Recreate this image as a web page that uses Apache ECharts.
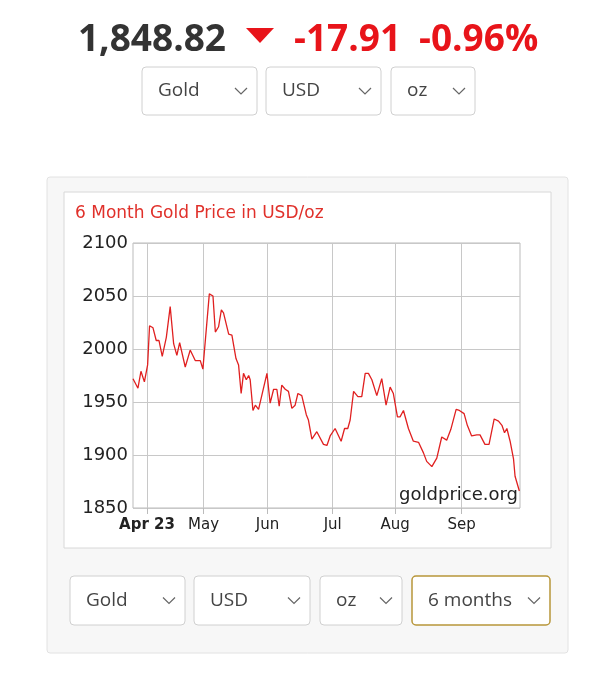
<!DOCTYPE html>
<html><head><meta charset="utf-8">
<script src="https://cdn.jsdelivr.net/npm/echarts@6/dist/echarts.min.js"></script>
<style>html,body{margin:0;padding:0;background:#fff}#c{width:616px;height:680px}</style>
</head><body><div id="c"></div>
<script>
// day index since chart start (~late March)
const days = [0,2.3,3.7,5.3,6.8,7.7,9.3,10.8,12.1,13.6,15.5,17.3,18.9,20.4,21.7,24.3,26.6,29.0,31.3,32.5,35.5,37.2,38.3,39.8,41.1,42.1,44.5,46.0,47.9,49.1,50.3,51.4,52.7,53.8,54.5,55.8,56.9,58.4,60.0,62.3,63.8,65.4,66.9,68.0,69.2,70.8,72.3,73.9,75.4,76.7,78.5,80.6,81.6,83.2,85.5,88.6,90.2,91.7,94.0,96.8,98.4,99.9,101.0,102.6,104.6,106.4,108.0,109.5,111.1,113.4,115.7,117.7,119.6,121.1,123.0,124.2,125.8,128.1,130.4,132.8,135.1,136.6,139.0,141.3,143.6,145.9,147.8,150.3,151.8,154.0,155.5,157.5,159.9,161.4,163.7,165.6,168.0,170.0,171.6,172.8,173.9,175.4,177.0,177.7,179.7];
const prices = [1972,1963,1979,1969,1985,2022,2020,2008,2008,1993,2011,2040,2005,1994,2006,1983,1999,1989,1989,1981,2052,2050,2016,2021,2037,2034,2014,2013,1991,1985,1958,1977,1971,1975,1971,1942,1947,1943,1957,1977,1949,1962,1962,1946,1966,1962,1960,1944,1947,1958,1956,1938,1933,1915,1922,1910,1909,1918,1925,1913,1925,1925,1933,1960,1955,1955,1977,1977,1971,1956,1972,1947,1964,1958,1936,1936,1942,1925,1913,1912,1902,1894,1889,1897,1917,1914,1924,1943,1942,1939,1928,1918,1919,1919,1910,1910,1934,1932,1928,1921,1925,1913,1896,1880,1866];
const monthDays = [6.5,32.8,62.6,92.9,121.9,152.9];
const monthLabels = ['Apr 23','May','Jun','Jul','Aug','Sep'];
const headerPrice = '1,848.82', headerChange = '-17.91', headerPct = '-0.96%';
const selRow1 = ['Gold','USD','oz'], selRow2 = ['Gold','USD','oz','6 months'];

function dropdown(x,y,w,h,label,border){
  return {type:'group',x:x,y:y,children:[
    {type:'rect',shape:{x:0,y:0,width:w,height:h,r:4},style:{fill:'#fff',stroke:border||'#d0d0d0',lineWidth:border?1.5:1}},
    {type:'text',x:16,y:h/2,style:{text:label,font:'19px "Open Sans"',fill:'#444',verticalAlign:'middle'}},
    {type:'polyline',shape:{points:[[w-22,h/2-3],[w-16,h/2+3],[w-10,h/2-3]]},style:{stroke:'#666',lineWidth:1.2,fill:null}}
  ]};
}
const row1X=[142,266,391], row1W=[115,115,84];
const row2X=[70,194,320,412], row2W=[115,116,82,138];
const graphics=[
  {type:'rect',shape:{x:47,y:177,width:521,height:476,r:3},style:{fill:'#f7f7f7',stroke:'#e2e2e2'},z:-10},
  {type:'rect',shape:{x:64,y:192,width:487,height:356},style:{fill:'#fff',stroke:'#d8d8d8'},z:-9},
  {type:'text',x:75,y:214,style:{text:'6 Month Gold Price in USD/oz',font:'17px Verdana, "DejaVu Sans"',fill:'#e0302a',verticalAlign:'middle'}},
  {type:'text',x:518,y:495,style:{text:'goldprice.org',font:'18px Verdana, "DejaVu Sans"',fill:'#222',align:'right',verticalAlign:'middle'},z:10},
  {type:'text',x:226,y:40,style:{text:headerPrice,font:'bold 37px "Open Sans"',fill:'#333',align:'right',verticalAlign:'middle'}},
  {type:'polygon',shape:{points:[[246,28],[274,28],[260,43]]},style:{fill:'#e8141a'}},
  {type:'text',x:294,y:40,style:{text:headerChange,font:'bold 37px "Open Sans"',fill:'#e8141a',verticalAlign:'middle'}},
  {type:'text',x:419,y:40,style:{text:headerPct,font:'bold 37px "Open Sans"',fill:'#e8141a',verticalAlign:'middle'}}
];
selRow1.forEach((s,i)=>graphics.push(dropdown(row1X[i],67,row1W[i],48,s)));
selRow2.forEach((s,i)=>graphics.push(dropdown(row2X[i],576,row2W[i],49,s,i===3?'#b8963a':null)));

const chart = echarts.init(document.getElementById('c'));
chart.setOption({
  animation:false,
  graphic:graphics,
  grid:{left:133,right:96,top:243,bottom:172,show:true,borderColor:'#bbb',borderWidth:1},
  xAxis:{type:'value',min:0,max:180,
    axisLine:{show:false},
    axisTick:{show:true,length:6,lineStyle:{color:'#bbb'},customValues:monthDays},
    splitLine:{show:true,lineStyle:{color:'#c8c8c8'}},
    axisLabel:{customValues:monthDays,margin:10,fontFamily:'Verdana, "DejaVu Sans"',fontSize:15,color:'#222',
      formatter:v=>{const i=monthDays.indexOf(v);return i===0?'{b|'+monthLabels[0]+'}':monthLabels[i];},
      rich:{b:{fontWeight:'bold',fontSize:15,fontFamily:'Verdana, "DejaVu Sans"',color:'#222'}}}},
  yAxis:{type:'value',min:1850,max:2100,interval:50,
    axisLine:{show:false},axisTick:{show:false},
    splitLine:{lineStyle:{color:'#c8c8c8'}},
    axisLabel:{fontFamily:'Verdana, "DejaVu Sans"',fontSize:18,color:'#222',margin:5,formatter:v=>String(v)}},
  series:[{type:'line',data:days.map((d,i)=>[d,prices[i]]),showSymbol:false,
    lineStyle:{color:'#e02020',width:1.3}}]
});
</script></body></html>
